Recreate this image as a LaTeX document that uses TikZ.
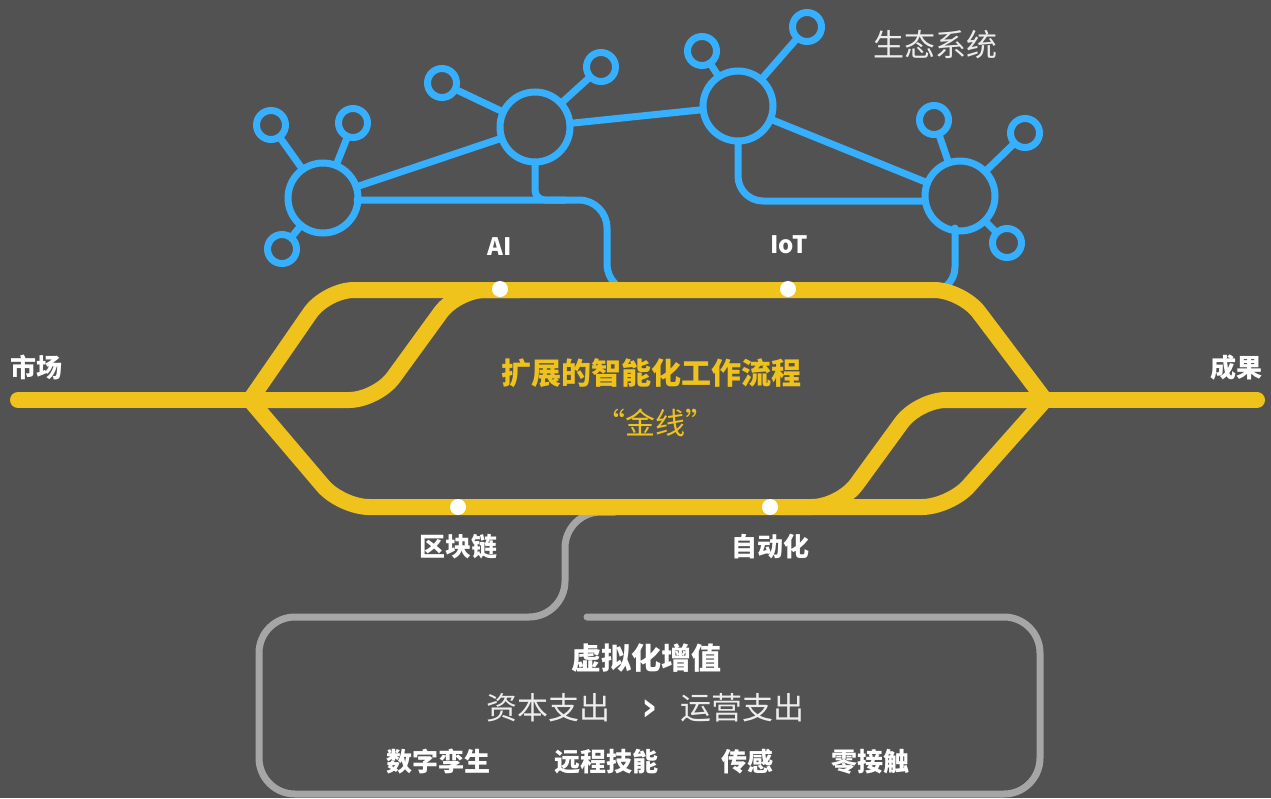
\documentclass[tikz,border=0pt]{standalone}
\usepackage{fontspec}
\setmainfont{Noto Sans CJK SC}
\newfontfamily\djv{DejaVu Sans}
\definecolor{bg}{HTML}{525252}
\definecolor{netblue}{HTML}{36B0FE}
\definecolor{gold}{HTML}{F0C21C}
\definecolor{boxgray}{HTML}{A6A6A6}
\definecolor{softwhite}{HTML}{EDEDED}
\begin{document}
\begin{tikzpicture}[x=1pt,y=-1pt,
  blueline/.style={draw=netblue, line width=7pt, line cap=round},
  hub/.style={circle, draw=netblue, line width=7pt, minimum size=70pt, inner sep=0pt, outer sep=0pt},
  sat/.style={circle, draw=netblue, line width=7pt, minimum size=29pt, inner sep=0pt, outer sep=0pt},
  goldline/.style={draw=gold, line width=16pt, line cap=round, line join=round},
  grayline/.style={draw=boxgray, line width=7pt, line cap=round},
  dot/.style={circle, fill=white, minimum size=16pt, inner sep=0pt},
  lbl/.style={text=white, font=\bfseries\fontsize{24}{26}\selectfont, inner sep=0pt},
  boldtxt/.style={text=white, font=\bfseries\fontsize{26}{28}\selectfont, inner sep=0pt},
]
\fill[bg] (0,0) rectangle (1271,798);
\useasboundingbox (0,0) rectangle (1271,798);

% ---------- blue network ----------
\node[hub] (A) at (323,198) {};
\node[hub] (B) at (535,127) {};
\node[hub] (C) at (738,106) {};
\node[hub] (D) at (960,196) {};
\node[sat] (A1) at (271,125) {};
\node[sat] (A2) at (353,123) {};
\node[sat] (A3) at (282,249) {};
\node[sat] (B1) at (442,83) {};
\node[sat] (B2) at (601,67) {};
\node[sat] (C1) at (702,51) {};
\node[sat] (C2) at (807,27) {};
\node[sat] (D1) at (934,120) {};
\node[sat] (D2) at (1025,133) {};
\node[sat] (D3) at (1007,243) {};

\foreach \h/\s in {A/A1,A/A2,A/A3,B/B1,B/B2,C/C1,C/C2,D/D1,D/D2,D/D3,A/B,B/C,C/D}
  \draw[blueline] (\h) -- (\s);

\coordinate (a1) at (607,200);
\coordinate (a2) at (607,292);
\coordinate (a3) at (665,292);
\coordinate (aS) at (357,200);
\draw[blueline, rounded corners=28pt] (aS) -- (a1) -- (a2) -- (a3);
\draw[blueline, rounded corners=10pt] (B.south) -- (B.south |- a1) -- ++(30,0);
\coordinate (c1) at (738,201);
\coordinate (cE) at (923,201);
\draw[blueline, rounded corners=25pt] (C.south) -- (c1) -- (cE);
\coordinate (d0) at (955,228);
\coordinate (d1) at (955,292);
\coordinate (d2) at (895,292);
\draw[blueline, rounded corners=25pt] (d0) -- (d1) -- (d2);

% ---------- gray box and connector ----------
\coordinate (g0) at (587,617);
\coordinate (g1) at (1040,617);
\coordinate (g2) at (1040,794);
\coordinate (g3) at (259,794);
\coordinate (g4) at (259,617);
\coordinate (g5) at (565,617);
\coordinate (g6) at (565,512);
\coordinate (g7) at (615,512);
\draw[grayline, rounded corners=36pt] (g0) -- (g1) -- (g2) -- (g3) -- (g4) -- (g5) -- (g6) -- (g7);

% ---------- golden line ----------
\coordinate (L) at (250,400);
\coordinate (R) at (1045,400);
\coordinate (mk) at (18,400);
\coordinate (rs) at (1257,400);
\draw[goldline] (mk) -- (L);
\draw[goldline] (R) -- (rs);
\draw[goldline, rounded corners=28pt] (L) -- (326,290) -- (962,290) -- (R);
\draw[goldline, rounded corners=28pt] (L) -- (341,507) -- (950,507) -- (R);
\draw[goldline, rounded corners=28pt] (L) -- (377,400) -- (457,290) -- (520,290);
\draw[goldline, rounded corners=28pt] (R) -- (918,400) -- (840,507) -- (780,507);

% dots and labels
\node[dot] (dAI) at (500,289) {};
\node[dot] (dIoT) at (788,289) {};
\node[dot] (dBC) at (458,507) {};
\node[dot] (dAU) at (770,507) {};
\node[lbl] (tAI) at (500,247) {AI};
\node[lbl] (tIoT) at (789,245) {IoT};
\node[boldtxt] (tBC) at (458,547) {区块链};
\node[boldtxt] (tAU) at (770,547) {自动化};

\node[boldtxt] (mkt) at (36,367) {市场};
\node[boldtxt] (res) at (1236,368) {成果};
\node[text=softwhite, font=\fontsize{31}{33}\selectfont, inner sep=0pt] (eco) at (935,45) {生态系统};

\node[text=gold, font=\bfseries\fontsize{30}{32}\selectfont, inner sep=0pt] (title) at (651,373) {扩展的智能化工作流程};
\node[text=gold, font=\fontsize{30}{32}\selectfont, inner sep=0pt] (gl) at (655,423) {“金线”};

% box texts
\node[text=white, font=\bfseries\fontsize{30}{32}\selectfont, inner sep=0pt] (vv) at (646,658) {虚拟化增值};
\node[text=softwhite, font=\fontsize{31}{33}\selectfont, inner sep=0pt] (capex) at (548,708) {资本支出};
\node[text=white, font=\djv\bfseries\fontsize{40}{42}\selectfont, inner sep=0pt] (gt) at (650,710) {›};
\node[text=softwhite, font=\fontsize{31}{33}\selectfont, inner sep=0pt] (opex) at (742,708) {运营支出};
\node[boldtxt] (t1) at (438,762) {数字孪生};
\node[boldtxt] (t2) at (606,762) {远程技能};
\node[boldtxt] (t3) at (747,762) {传感};
\node[boldtxt] (t4) at (870,762) {零接触};
\end{tikzpicture}
\end{document}
